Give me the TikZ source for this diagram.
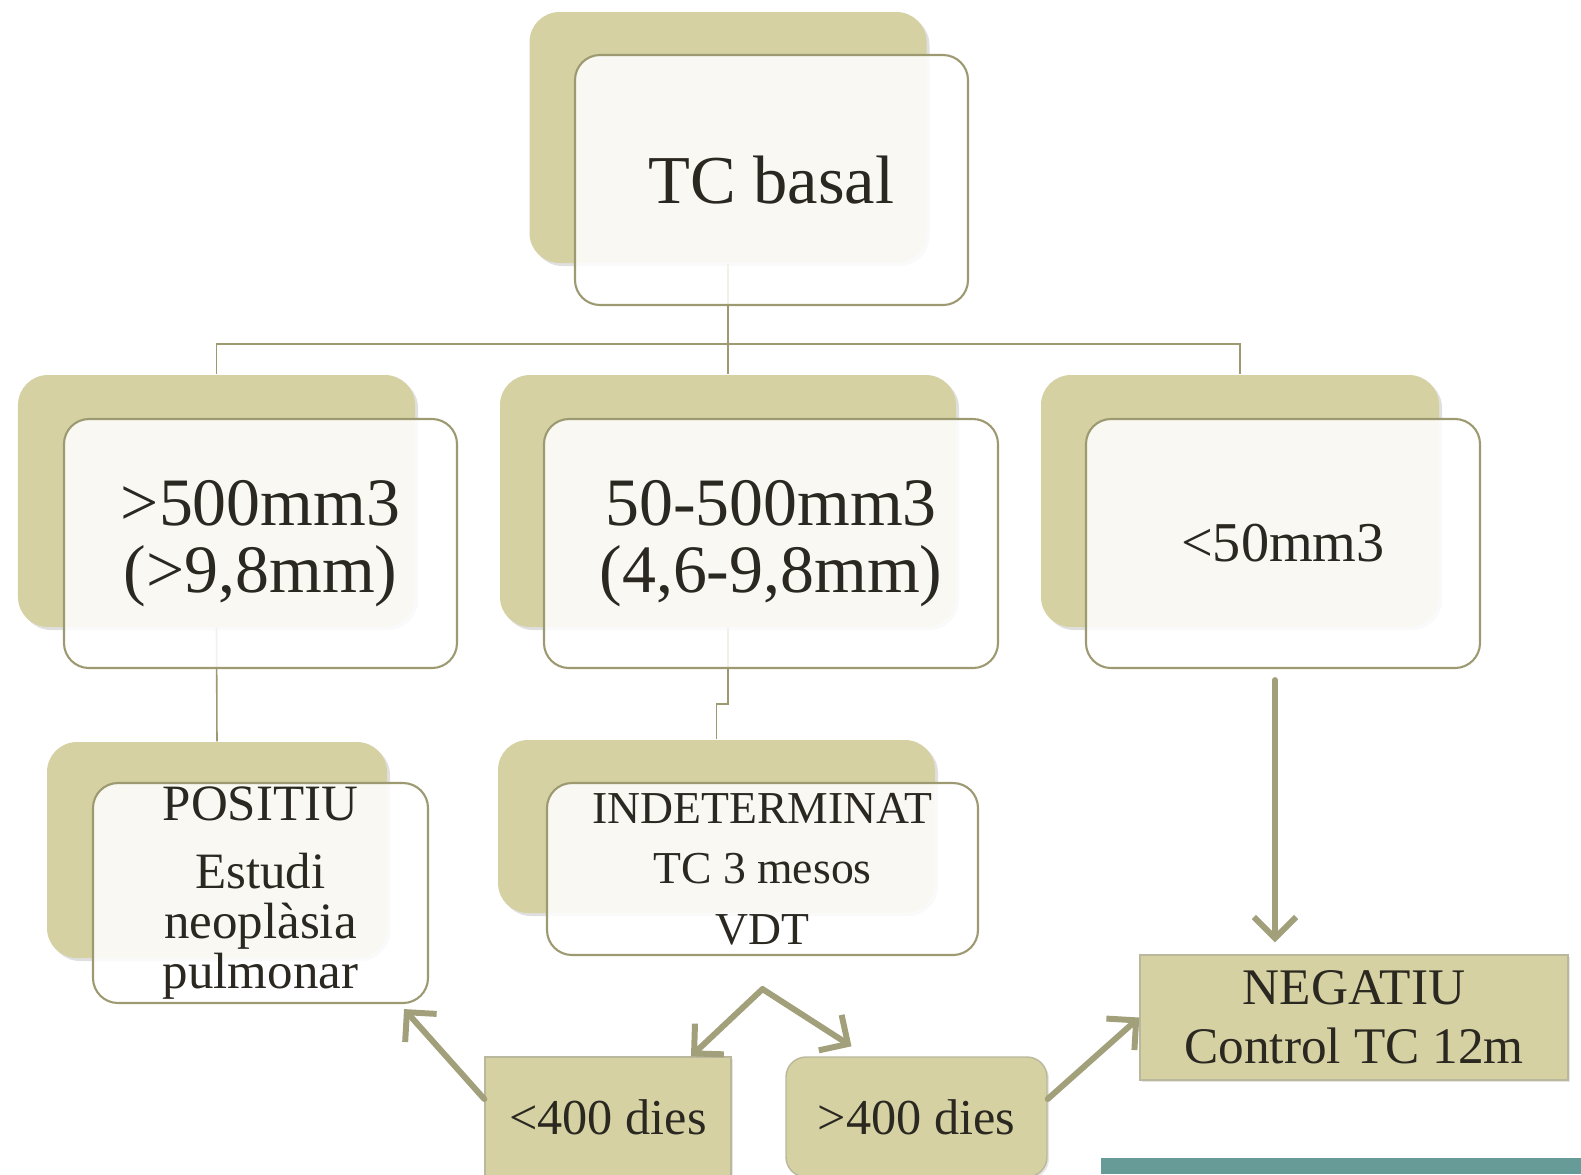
\documentclass[tikz,border=0pt]{standalone}
\usepackage{fontspec}
\setmainfont{Liberation Serif}
\usetikzlibrary{arrows.meta,calc,positioning,shadows}
\definecolor{CardKhaki}{HTML}{D5D1A3}
\definecolor{EdgeOlive}{HTML}{9D9A72}
\definecolor{ArrowOlive}{HTML}{A29F7B}
\definecolor{InkDark}{HTML}{2A2820}
\definecolor{BandTeal}{HTML}{669B97}

\begin{document}
\begin{tikzpicture}[
      text=InkDark,
      back/.style={fill=CardKhaki,rounded corners=0.3cm,
        drop shadow={opacity=0.25,shadow xshift=0.03cm,shadow yshift=-0.03cm}},
      front/.style={draw=EdgeOlive,line width=0.6pt,fill=white,fill opacity=0.86,
        text opacity=1,rounded corners=0.25cm,align=center,inner sep=0pt},
      tag/.style={fill=CardKhaki,draw=EdgeOlive!70,line width=0.4pt,align=center,inner sep=0pt,
        drop shadow={opacity=0.2,shadow xshift=0.02cm,shadow yshift=-0.02cm}},
      link/.style={draw=EdgeOlive,line width=0.45pt},
      flow/.style={draw=ArrowOlive,line width=1.7pt,line cap=round,
        -{Straight Barb[length=6pt,width=12pt]}}
    ]
      \useasboundingbox (0,0) rectangle (15.81,-11.74);
      % back cards
      \node[back,minimum width=3.97cm,minimum height=2.51cm] (tcb) at (7.28,-1.375) {};
      \node[back,minimum width=3.97cm,minimum height=2.52cm] (bigb) at (2.165,-5.01) {};
      \node[back,minimum width=4.56cm,minimum height=2.52cm] (midb) at (7.28,-5.01) {};
      \node[back,minimum width=3.98cm,minimum height=2.52cm] (smallb) at (12.40,-5.01) {};
      \node[back,minimum width=3.40cm,minimum height=2.16cm] (posb) at (2.17,-8.50) {};
      \node[back,minimum width=4.37cm,minimum height=1.73cm] (indb) at (7.165,-8.265) {};
      % tree lines
      \draw[link] (tcb.south) -- ++(0,-0.8) -| (bigb.north);
      \draw[link] (tcb.south) -- ++(0,-0.8) -| (smallb.north);
      \draw[link] (tcb.south) -- (midb.north);
      \draw[link] (bigb.south) -- (posb.north);
      \draw[link] (midb.south) -- ++(0,-0.76) -| (indb.north);
      % front cards
      \node[front,minimum width=3.93cm,minimum height=2.50cm,font=\fontsize{19.5}{22}\selectfont] (tcf) at (7.715,-1.80) {TC basal};
      \node[front,minimum width=3.93cm,minimum height=2.49cm,font=\fontsize{19.3}{19}\selectfont] (bigf) at (2.605,-5.435) {>500mm3\\(>9,8mm)};
      \node[front,minimum width=4.54cm,minimum height=2.49cm,font=\fontsize{19.3}{19}\selectfont] (midf) at (7.71,-5.435) {50-500mm3\\(4,6-9,8mm)};
      \node[front,minimum width=3.94cm,minimum height=2.49cm,font=\fontsize{16}{18}\selectfont] (smallf) at (12.83,-5.435) {<50mm3};
      \node[front,minimum width=3.35cm,minimum height=2.20cm,font=\fontsize{14.5}{14.3}\selectfont] (posf) at (2.605,-8.93) {POSITIU\\[5pt]Estudi\\neoplàsia\\pulmonar};
      \node[front,minimum width=4.31cm,minimum height=1.72cm,font=\fontsize{13}{17.2}\selectfont] (indf) at (7.625,-8.69) {INDETERMINAT\\TC 3 mesos\\VDT};
      % outcome tags
      \node[tag,minimum width=4.28cm,minimum height=1.25cm,font=\fontsize{14.6}{16.7}\selectfont] (neg) at (13.54,-10.175) {NEGATIU\\Control TC 12m};
      \node[tag,minimum width=2.46cm,minimum height=1.2cm,font=\fontsize{14.3}{16}\selectfont] (fast) at (6.08,-11.17) {<400 dies};
      \node[tag,rounded corners=0.2cm,minimum width=2.61cm,minimum height=1.2cm,font=\fontsize{14.3}{16}\selectfont] (slow) at (9.165,-11.17) {>400 dies};
      % arrows
      \coordinate (fork) at ([yshift=-0.33cm]indf.south);
      \coordinate (drop) at ([xshift=-0.08cm,yshift=-0.11cm]smallf.south);
      \draw[flow] (fork) -- ([xshift=0.83cm]fast.north);
      \draw[flow] (fork) -- ([xshift=-0.65cm,yshift=0.1cm]slow.north);
      \draw[flow] ([yshift=0.18cm]fast.west) -- ([xshift=-0.25cm,yshift=-0.05cm]posf.south east);
      \draw[flow] ([yshift=0.18cm]slow.east) -- (neg.west);
      \draw[flow,shorten >=0.12cm] (drop) -- (drop |- neg.north);
      \fill[BandTeal] (11.01,-11.58) rectangle (15.81,-11.74);
    \end{tikzpicture}
\end{document}
